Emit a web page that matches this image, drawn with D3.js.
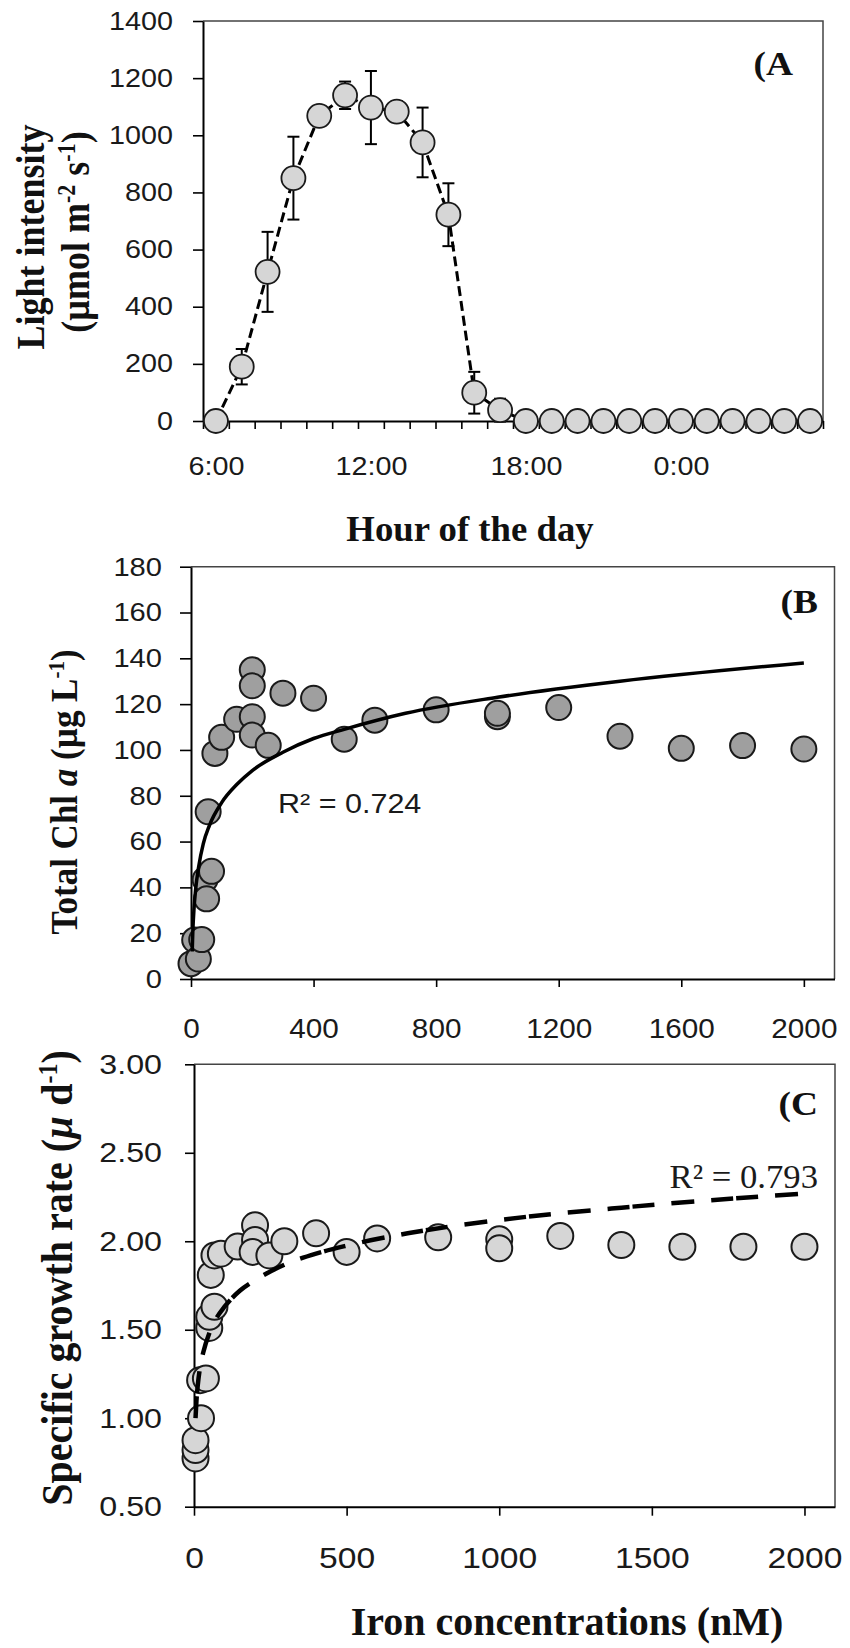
<!DOCTYPE html>
<html>
<head>
<meta charset="utf-8">
<script src="https://cdn.jsdelivr.net/npm/d3@7"></script>
<style>
  body { margin: 0; background: #fff; }
  svg { display: block; }
</style>
</head>
<body>
<div id="chart"></div>
<script>
const WIDTH = 850, HEIGHT = 1648;
const SANS = '"Liberation Sans", Arial, Helvetica, sans-serif';
const SERIF = '"Liberation Serif", "Times New Roman", Times, serif';
const INK = "#1a1a1a";

// ---- Panel A : light intensity over the day ----
const hours = ["6:00","7:00","8:00","9:00","10:00","11:00","12:00","13:00","14:00","15:00","16:00","17:00",
               "18:00","19:00","20:00","21:00","22:00","23:00","0:00","1:00","2:00","3:00","4:00","5:00"];
const lightMean = [0, 190, 522, 850, 1068, 1140, 1097, 1083, 975, 722, 99, 38, 0, 0, 0, 0, 0, 0, 0, 0, 0, 0, 0, 0];
const lightErr  = [0, 62, 140, 145, 10, 48, 128, 37, 122, 110, 73, 40, 0, 0, 0, 0, 0, 0, 0, 0, 0, 0, 0, 0];
const hourLabels = ["6:00", "12:00", "18:00", "0:00"];
const lightTicks = [0, 200, 400, 600, 800, 1000, 1200, 1400];

// ---- Panel B : total Chl a vs iron ----
const chlFe    = [0, 12, 24, 35, 46, 51, 67, 56, 78, 100, 149, 200, 200, 200, 200, 252, 300, 400, 500, 600, 800, 1000, 1000, 1200, 1400, 1600, 1800, 2000];
const chlValue = [6.7, 17, 8.7, 17.2, 43.4, 35, 47, 73, 98.5, 105.5, 113.4, 135, 128, 114.5, 106.5, 102, 124.8, 122.6, 104.7, 113, 117.5, 114.5, 116, 118.5, 106, 100.7, 101.9, 100.4];
// trend line
const chlFitFe    = [4, 6, 10, 15, 25, 40, 60, 100, 150, 200, 300, 400, 500, 700, 1000, 1400, 2000];
const chlFitValue = [12, 21, 31, 39, 49, 59, 67, 77, 85, 91, 99, 105, 109, 116, 123, 130, 138];
const chlYTicks = [0, 20, 40, 60, 80, 100, 120, 140, 160, 180];
const chlXTicks = [0, 400, 800, 1200, 1600, 2000];

// ---- Panel C : specific growth rate vs iron ----
const growthFe    = [5, 5, 5, 23, 20, 39, 50, 50, 67, 55, 67, 88, 143, 200, 200, 192, 247, 296, 400, 500, 600, 800, 1000, 1000, 1200, 1400, 1600, 1800, 2000];
const growthValue = [0.773, 0.82, 0.876, 1.0, 1.215, 1.225, 1.51, 1.573, 1.63, 1.81, 1.92, 1.93, 1.97, 2.09, 2.007, 1.94, 1.92, 2.0, 2.045, 1.94, 2.016, 2.022, 2.011, 1.96, 2.03, 1.979, 1.969, 1.969, 1.969];
const growthFitFe    = [5, 8, 12, 20, 30, 50, 75, 100, 150, 200, 300, 400, 500, 700, 1000, 1400, 2000];
const growthFitValue = [1.0, 1.10, 1.18, 1.29, 1.37, 1.48, 1.57, 1.63, 1.72, 1.78, 1.87, 1.93, 1.975, 2.045, 2.12, 2.19, 2.27];
const growthYTicks = [0.5, 1.0, 1.5, 2.0, 2.5, 3.0];
const growthXTicks = [0, 500, 1000, 1500, 2000];

const svg = d3.select("#chart").append("svg")
  .attr("width", WIDTH).attr("height", HEIGHT);

// text in the figure is a little wider than the font, stretch it
function stretchWidth(sel, k) {
  sel.each(function () {
    const len = this.getComputedTextLength();
    d3.select(this).attr("textLength", len * k).attr("lengthAdjust", "spacingAndGlyphs");
  });
}

function styleAxis(g, size, k) {
  g.select(".domain").attr("stroke", "#000").attr("stroke-width", 2);
  g.selectAll(".tick line").attr("stroke", "#000").attr("stroke-width", 1.6);
  g.selectAll("text").attr("fill", INK)
    .style("font-family", SANS).style("font-size", size + "px");
  stretchWidth(g.selectAll("text"), k);
}

function frame(box) {
  svg.append("path")
    .attr("d", `M${box.left},${box.top}H${box.right}V${box.bottom}`)
    .attr("fill", "none").attr("stroke", "#444").attr("stroke-width", 1.5);
}

function yTitle(parts, cx, cy, size, k) {
  const t = svg.append("text")
    .attr("transform", `translate(${cx},${cy}) rotate(-90) scale(1,${k})`)
    .attr("text-anchor", "middle").attr("fill", "#111")
    .style("font-family", SERIF).style("font-weight", "bold").style("font-size", size + "px");
  parts.forEach(p => {
    const s = t.append("tspan").text(p.t);
    if (p.sup) s.attr("baseline-shift", "super").style("font-size", Math.round(size * 0.6) + "px");
    if (p.it) s.style("font-style", "italic");
  });
}

function xTitle(str, cx, y, size, k) {
  const t = svg.append("text").attr("x", cx).attr("y", y)
    .attr("text-anchor", "middle").attr("fill", "#111")
    .style("font-family", SERIF).style("font-weight", "bold").style("font-size", size + "px")
    .text(str);
  stretchWidth(t, k);
}

function panelTag(str, x, y) {
  const t = svg.append("text").attr("x", x).attr("y", y)
    .attr("text-anchor", "end").attr("fill", "#111")
    .style("font-family", SERIF).style("font-weight", "bold").style("font-size", "34px")
    .text(str);
  stretchWidth(t, 1.1);
}

const plain = d3.format("d");

/* ---------------- Panel A ---------------- */
const boxA = { left: 203, right: 823, top: 21, bottom: 421 };
const xA = d3.scaleLinear().domain([-0.5, hours.length - 0.5]).range([boxA.left, boxA.right]);
const yA = d3.scaleLinear().domain([0, 1400]).range([boxA.bottom, boxA.top]);

frame(boxA);

svg.append("g").attr("transform", `translate(0,${boxA.bottom})`)
  .call(d3.axisBottom(xA).tickValues(d3.range(-0.5, hours.length, 1)).tickFormat("").tickSize(8).tickSizeOuter(0))
  .call(g => styleAxis(g, 25, 1.15));

svg.append("g").attr("transform", `translate(0,${boxA.bottom})`)
  .call(d3.axisBottom(xA).tickValues(hourLabels.map(h => hours.indexOf(h)))
        .tickFormat(i => hours[i]).tickSize(0).tickPadding(36))
  .call(g => g.select(".domain").remove())
  .call(g => styleAxis(g, 25, 1.15));

svg.append("g").attr("transform", `translate(${boxA.left},0)`)
  .call(d3.axisLeft(yA).tickValues(lightTicks).tickFormat(plain).tickSize(10).tickPadding(20).tickSizeOuter(0))
  .call(g => styleAxis(g, 25, 1.15));

const lineA = d3.line().x((d, i) => xA(i)).y(d => yA(d));
svg.append("path").datum(lightMean)
  .attr("d", lineA).attr("fill", "none")
  .attr("stroke", "#000").attr("stroke-width", 3).attr("stroke-dasharray", "10,5");

const errA = svg.append("g").attr("stroke", "#000").attr("stroke-width", 2);
lightMean.forEach((v, i) => {
  const e = lightErr[i];
  if (!e) return;
  const x = xA(i);
  errA.append("line").attr("x1", x).attr("x2", x).attr("y1", yA(v - e)).attr("y2", yA(v + e));
  errA.append("line").attr("x1", x - 6).attr("x2", x + 6).attr("y1", yA(v + e)).attr("y2", yA(v + e));
  errA.append("line").attr("x1", x - 6).attr("x2", x + 6).attr("y1", yA(v - e)).attr("y2", yA(v - e));
});

svg.append("g").selectAll("circle").data(lightMean).join("circle")
  .attr("cx", (d, i) => xA(i)).attr("cy", d => yA(d)).attr("r", 12)
  .attr("fill", "#d6d6d6").attr("stroke", INK).attr("stroke-width", 1.8);

panelTag("(A", 793, 75);
xTitle("Hour of the day", 470, 541, 35, 1.05);
yTitle([{ t: "Light intensity" }], 44, 237, 36, 1.12);
yTitle([{ t: "(µmol m" }, { t: "-2", sup: true }, { t: " s" }, { t: "-1", sup: true }, { t: ")" }], 89, 232, 36, 1.12);

/* ---------------- Panel B ---------------- */
const boxB = { left: 191, right: 834.5, top: 566.7, bottom: 979 };
const xB = d3.scaleLinear().domain([0, 2100]).range([boxB.left, boxB.right]);
const yB = d3.scaleLinear().domain([0, 180]).range([boxB.bottom, boxB.top]);

frame(boxB);

svg.append("g").attr("transform", `translate(0,${boxB.bottom})`)
  .call(d3.axisBottom(xB).tickValues(chlXTicks).tickFormat(plain).tickSize(8).tickPadding(32).tickSizeOuter(0))
  .call(g => styleAxis(g, 27, 1.1));

svg.append("g").attr("transform", `translate(${boxB.left},0)`)
  .call(d3.axisLeft(yB).tickValues(chlYTicks).tickFormat(plain).tickSize(11).tickPadding(18).tickSizeOuter(0))
  .call(g => styleAxis(g, 26, 1.12));

svg.append("g").selectAll("circle").data(chlFe).join("circle")
  .attr("cx", d => xB(d)).attr("cy", (d, i) => yB(chlValue[i])).attr("r", 12.5)
  .attr("fill", "#9f9f9f").attr("stroke", INK).attr("stroke-width", 2);

const lineB = d3.line().x(d => xB(d)).y((d, i) => yB(chlFitValue[i])).curve(d3.curveMonotoneX);
svg.append("path").datum(chlFitFe)
  .attr("d", lineB).attr("fill", "none")
  .attr("stroke", "#000").attr("stroke-width", 3.5);

const r2B = svg.append("text").attr("x", 278).attr("y", 813).attr("fill", INK)
  .style("font-family", SANS).style("font-size", "27px").text("R² = 0.724");
stretchWidth(r2B, 1.13);

panelTag("(B", 818, 613);
yTitle([{ t: "Total Chl " }, { t: "a", it: true }, { t: " (µg L" }, { t: "-1", sup: true }, { t: ")" }], 77, 792, 35, 1.1);

/* ---------------- Panel C ---------------- */
const boxC = { left: 194, right: 835, top: 1064.3, bottom: 1506.7 };
const xC = d3.scaleLinear().domain([0, 2100]).range([boxC.left, boxC.right]);
const yC = d3.scaleLinear().domain([0.5, 3.0]).range([boxC.bottom, boxC.top]);

frame(boxC);

svg.append("g").attr("transform", `translate(0,${boxC.bottom})`)
  .call(d3.axisBottom(xC).tickValues(growthXTicks).tickFormat(plain).tickSize(9).tickPadding(31).tickSizeOuter(0))
  .call(g => styleAxis(g, 30, 1.12));

svg.append("g").attr("transform", `translate(${boxC.left},0)`)
  .call(d3.axisLeft(yC).tickValues(growthYTicks).tickFormat(d3.format(".2f")).tickSize(9).tickPadding(23).tickSizeOuter(0))
  .call(g => styleAxis(g, 28, 1.15));

svg.append("g").selectAll("circle").data(growthFe).join("circle")
  .attr("cx", d => xC(d)).attr("cy", (d, i) => yC(growthValue[i])).attr("r", 13)
  .attr("fill", "#d6d6d6").attr("stroke", INK).attr("stroke-width", 2);

const lineC = d3.line().x(d => xC(d)).y((d, i) => yC(growthFitValue[i])).curve(d3.curveMonotoneX);
svg.append("path").datum(growthFitFe)
  .attr("d", lineC).attr("fill", "none")
  .attr("stroke", "#000").attr("stroke-width", 4.5)
  .attr("stroke-dasharray", "22,3,22,17,23,17");

const r2C = svg.append("text").attr("x", 818).attr("y", 1188).attr("text-anchor", "end").attr("fill", INK)
  .style("font-family", SERIF).style("font-size", "34px").text("R² = 0.793");
stretchWidth(r2C, 1.02);

panelTag("(C", 818, 1115);
xTitle("Iron concentrations (nM)", 567, 1635, 40, 1.0);
yTitle([{ t: "Specific growth rate (" }, { t: "µ", it: true }, { t: " d" }, { t: "-1", sup: true }, { t: ")" }], 72, 1278, 40, 1.12);
</script>
</body>
</html>
